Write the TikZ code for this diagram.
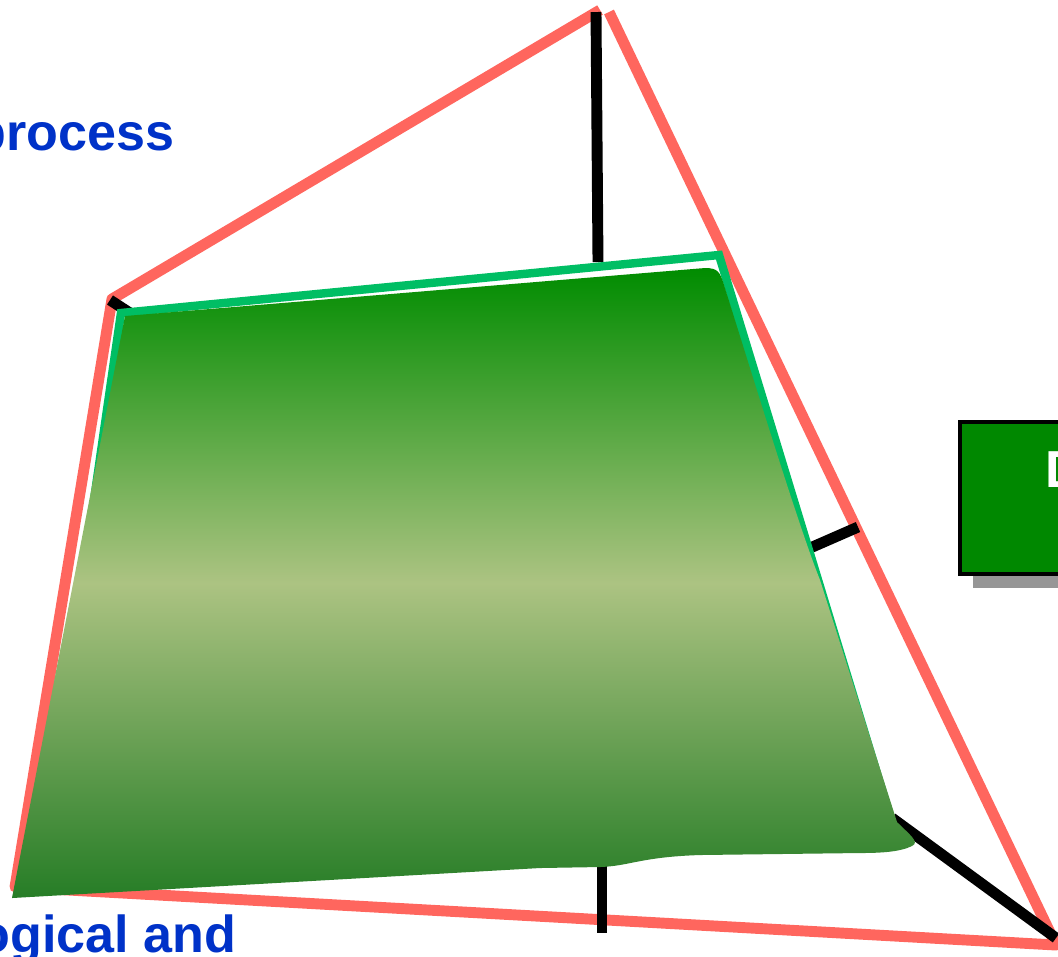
\documentclass[tikz,border=0pt]{standalone}
\usepackage{fontspec}
\setsansfont{Liberation Sans}
\usepackage{xcolor}
\definecolor{edgered}{RGB}{255,102,94}
\definecolor{rimgreen}{RGB}{0,190,100}
\definecolor{leafdark}{RGB}{0,140,0}
\definecolor{leaflight}{RGB}{172,195,130}
\definecolor{leafbottom}{RGB}{38,125,38}
\definecolor{labelblue}{RGB}{0,50,200}
\definecolor{boxgreen}{RGB}{0,136,0}
\definecolor{shadowgray}{RGB}{150,150,150}
\pgfdeclareverticalshading{leafshade}{100bp}{color(0bp)=(leafbottom); color(25bp)=(leafbottom); color(50bp)=(leaflight); color(75bp)=(leafdark); color(100bp)=(leafdark)}

\begin{document}
\begin{tikzpicture}[x=0.01cm, y=-0.01cm,
  redline/.style={edgered, line width=3.1pt, line join=round},
  blackline/.style={black, line width=3.1pt},
  greenline/.style={rimgreen, line width=2.4pt},
  bluetext/.style={labelblue, inner sep=0pt, font=\sffamily\bfseries\fontsize{14.8}{18}\selectfont}]
\useasboundingbox (0,0) rectangle (1058,956);
\clip (0,0) rectangle (1058,956);

 %outer frame:
 \draw[redline] (609,12) -- (1056,945) -- (15,887) -- (112,299) -- (600,10);

 %black struts
 \draw[blackline] (596,12) -- (598,262);
 \draw[blackline] (110,300) -- (130,313);
 \draw[blackline] (810,548) -- (858,527);
 \draw[blackline] (602,855) -- (602,933);
 \draw[blackline] (892,818) -- (1056,938);

 %inner rim
 \draw[greenline, line join=miter] (94,500) -- (121,313) -- (719,255) -- (893,826);

 %surface
 \shade[shading=leafshade]
   (125,316) -- (705,268) .. controls (718,268) and (720,272) .. (724,285)
   .. controls (760,400) and (800,530) .. (820,580) -- (897,822)
   .. controls (910,835) and (920,842) .. (912,846)
   .. controls (900,852) and (880,853) .. (860,853) -- (700,855)
   .. controls (640,857) and (630,866) .. (600,867) -- (540,868) -- (12,898) -- cycle;

 %box on the right
 \fill[shadowgray] (973,430) rectangle (1080,588);
 \node[draw=black, line width=1.2pt, fill=boxgreen, anchor=north west,
   minimum width=1.3cm, minimum height=1.52cm, inner sep=0pt] (databox) at (958,420) {};
 \node[bluetext, text=white, anchor=base west] (boxtext) at (1045,487) {D};

 %labels
 \node[bluetext, anchor=base east] (proclabel) at (175,150) {process};
 \node[bluetext, anchor=base east] (andlabel) at (237,952) {ogical and};
\end{tikzpicture}
\end{document}
